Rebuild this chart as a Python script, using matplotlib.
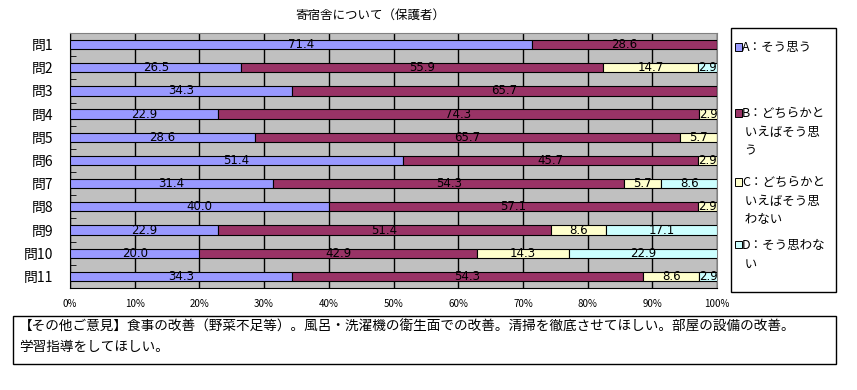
import matplotlib
matplotlib.use('Agg')
import matplotlib.pyplot as plt
from matplotlib.patches import Rectangle
import numpy as np

plt.rcParams['font.family'] = ['Noto Sans CJK JP', 'DejaVu Sans']

# data (percent)
questions = ['問1', '問2', '問3', '問4', '問5', '問6', '問7', '問8', '問9', '問10', '問11']
a_vals = [71.4, 26.5, 34.3, 22.9, 28.6, 51.4, 31.4, 40.0, 22.9, 20.0, 34.3]
b_vals = [28.6, 55.9, 65.7, 74.3, 65.7, 45.7, 54.3, 57.1, 51.4, 42.9, 54.3]
c_vals = [0, 14.7, 0, 2.9, 5.7, 2.9, 5.7, 2.9, 8.6, 14.3, 8.6]
d_vals = [0, 2.9, 0, 0, 0, 0, 8.6, 0, 17.1, 22.9, 2.9]

legend_labels = ['A：そう思う', 'B：どちらかと\n いえばそう思\n う',
                 'C：どちらかと\n いえばそう思\n わない', 'D：そう思わな\n い']
colors = ['#9999FF', '#993366', '#FFFFCC', '#CCFFFF']
title = '寄宿舎について（保護者）'
comment = ('【その他ご意見】食事の改善（野菜不足等）。風呂・洗濯機の衛生面での改善。清掃を徹底させてほしい。部屋の設備の改善。\n'
           '学習指導をしてほしい。')

fig = plt.figure(figsize=(8.57, 3.90), dpi=100)
W, H = 857, 390
ax = fig.add_axes([70 / W, (H - 288) / H, 647 / W, 255 / H])
ax.set_facecolor('#C0C0C0')

series = [a_vals, b_vals, c_vals, d_vals]
y = np.arange(len(questions))
left = np.zeros(len(questions))
for vals, col in zip(series, colors):
    vals = np.array(vals, dtype=float)
    ax.barh(y, vals, left=left, height=0.4, color=col, edgecolor='black',
            linewidth=0.8, zorder=3)
    for i, v in enumerate(vals):
        if v > 0:
            ax.text(left[i] + v / 2, y[i], '%.1f' % v, ha='center', va='center',
                    fontsize=8.5, color='black', zorder=4,
                    family=['DejaVu Sans'])
    left = left + vals

ax.set_xlim(0, 100)
ax.set_ylim(len(questions) - 0.5, -0.5)
ax.set_xticks(np.arange(0, 101, 10))
ax.set_xticklabels(['%d%%' % t for t in range(0, 101, 10)], fontsize=7)
ax.set_yticks(y)
ax.set_yticklabels(questions, fontsize=10)
ax.set_yticks(np.arange(-0.5, len(questions), 1), minor=True)
ax.tick_params(axis='y', which='major', length=0, pad=12)
ax.tick_params(axis='y', which='minor', length=4, direction='in', color='black')
ax.tick_params(axis='x', length=0, pad=8)
ax.grid(axis='x', color='black', linewidth=1, zorder=1)
for s in ['top', 'right']:
    ax.spines[s].set_color('#808080')
for s in ['left', 'bottom']:
    ax.spines[s].set_color('black')

fig.text(370 / W, 1 - 15 / H, title, ha='center', va='center', fontsize=9)

# legend box
fig.patches.append(Rectangle((731 / W, 1 - 292 / H), 105 / W, 264 / H,
                             transform=fig.transFigure, facecolor='white',
                             edgecolor='black', linewidth=1))
leg_y = [49, 115, 184, 247]
for lab, col, ly in zip(legend_labels, colors, leg_y):
    fig.patches.append(Rectangle((735 / W, 1 - (ly + 1.5) / H), 7 / W, 7 / H,
                                 transform=fig.transFigure, facecolor=col,
                                 edgecolor='black', linewidth=0.7))
    fig.text(742 / W, 1 - (ly - 8) / H, lab, ha='left', va='top', fontsize=9,
             linespacing=1.55)

# comment box
fig.patches.append(Rectangle((13 / W, 1 - 364 / H), 823 / W, 48 / H,
                             transform=fig.transFigure, facecolor='white',
                             edgecolor='black', linewidth=1))
fig.text(19 / W, 1 - 320 / H, comment, ha='left', va='top', fontsize=9.8,
         linespacing=1.5)

fig.savefig('out.png', dpi=100)
